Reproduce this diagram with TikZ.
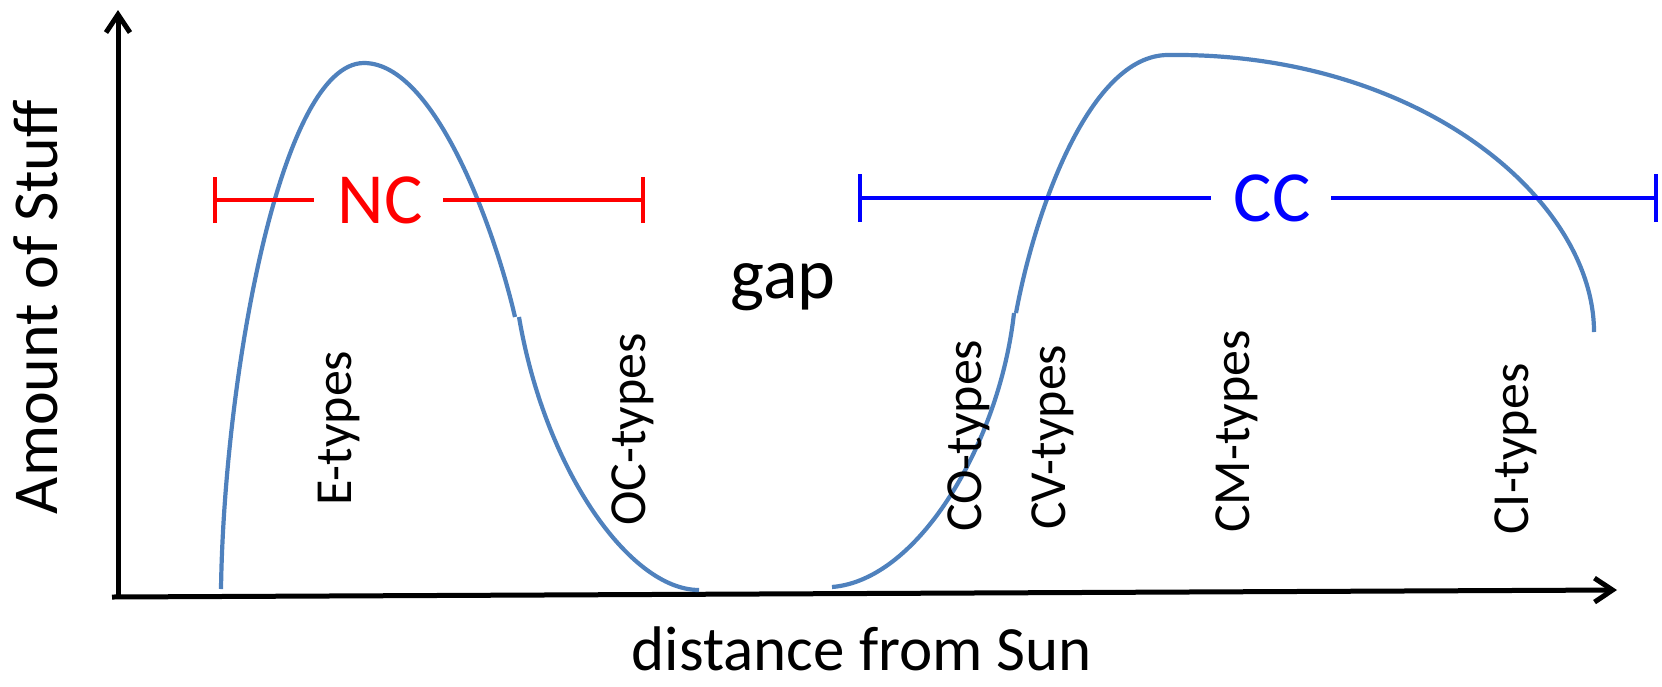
\documentclass[tikz,border=0pt]{standalone}
\usepackage{fontspec}
\setmainfont{Carlito}
\usetikzlibrary{arrows.meta}
\definecolor{curveblue}{RGB}{79,129,189}
\definecolor{ccblue}{RGB}{0,0,255}
\definecolor{ncred}{RGB}{255,0,0}
\begin{document}
\begin{tikzpicture}[x=1pt,y=-1pt,
  axis/.style={line width=5pt,-{Straight Barb[length=18pt,width=24pt]}},
  curve/.style={line width=4.2pt,curveblue},
  barline/.style={line width=4pt},
  lbl/.style={font=\fontsize{52}{60}\selectfont,rotate=90,anchor=base west,inner sep=0pt},
  big/.style={font=\fontsize{72}{86}\selectfont,inner sep=0pt},
]
\useasboundingbox (0,0) rectangle (1662,686);
% axes
\coordinate (O) at (118,597);
\coordinate (Ox) at (112,597);
\coordinate (ytip) at (118,10);
\coordinate (xtip) at (1617,590);
\draw[axis] (O) -- (ytip);
\draw[axis] (Ox) -- (xtip);
% axis titles
\node[font=\fontsize{64}{76}\selectfont,rotate=90,anchor=base,inner sep=0pt] (ylab) at (57,307) {Amount of Stuff};
\node[font=\fontsize{63}{76}\selectfont,anchor=base,inner sep=0pt] (xlab) at (862,670) {distance from Sun};
% curve 1
\coordinate (c1s) at (221,589);
\coordinate (c1p) at (364,63);
\coordinate (c1k) at (515,317);
\coordinate (c1k2) at (519,317);
\coordinate (c1e) at (699,590);
\draw[curve] (c1s) .. controls (224,380) and (280,63) .. (c1p)
                   .. controls (435,63) and (495,230) .. (c1k);
\draw[curve] (c1k2) .. controls (545,470) and (630,590) .. (c1e);
% curve 2
\coordinate (c2s) at (832,587);
\coordinate (c2k) at (1014,313);
\coordinate (c2k2) at (1016,313);
\coordinate (c2p) at (1168,55);
\coordinate (c2e) at (1594,332);
\draw[curve] (c2s) .. controls (920,580) and (1000,440) .. (c2k);
\draw[curve] (c2k2) .. controls (1035,210) and (1090,55) .. (c2p)
                    .. controls (1420,52) and (1594,200) .. (c2e);
% NC bar
\node[big,text=ncred] (NC) at (380,200) {NC};
\coordinate (ncL) at (215,200);
\coordinate (ncR) at (643,200);
\coordinate (ncA) at (314,200);
\coordinate (ncB) at (443,200);
\draw[barline,ncred] ([yshift=-23pt]ncL) -- ([yshift=23pt]ncL);
\draw[barline,ncred] ([yshift=-23pt]ncR) -- ([yshift=23pt]ncR);
\draw[barline,ncred] (ncL) -- (ncA);
\draw[barline,ncred] (ncB) -- (ncR);
% CC bar
\node[big,text=ccblue] (CC) at (1272,198) {CC};
\coordinate (ccL) at (860,198);
\coordinate (ccR) at (1656,198);
\coordinate (ccA) at (1211,198);
\coordinate (ccB) at (1331,198);
\draw[barline,ccblue] ([yshift=-24pt]ccL) -- ([yshift=24pt]ccL);
\draw[barline,ccblue] ([yshift=-24pt]ccR) -- ([yshift=24pt]ccR);
\draw[barline,ccblue] (ccL) -- (ccA);
\draw[barline,ccblue] (ccB) -- (ccR);
% gap
\node[big,anchor=base] (gap) at (783,298) {gap};
% type labels
\node[lbl] (E) at (351,506) {E-types};
\node[lbl] (OC) at (645,526) {OC-types};
\node[lbl] (CO) at (981,532) {CO-types};
\node[lbl] (CV) at (1065,530) {CV-types};
\node[lbl] (CM) at (1249,533) {CM-types};
\node[lbl] (CI) at (1528,535) {CI-types};
\end{tikzpicture}
\end{document}
